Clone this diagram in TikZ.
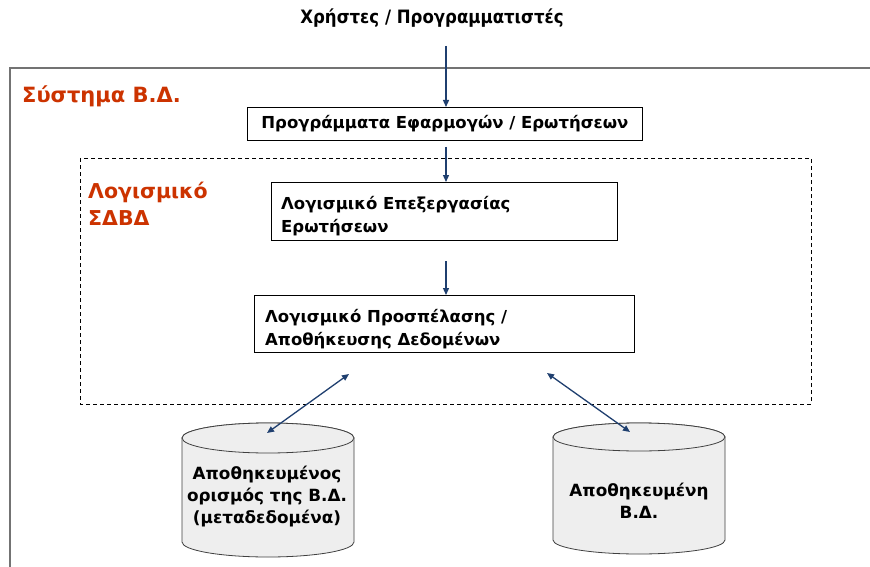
\documentclass[tikz,border=0pt]{standalone}
\usepackage{fontspec}
\setmainfont{DejaVu Sans}
\newfontfamily\condfont{DejaVu Sans Condensed}
\usetikzlibrary{arrows.meta}
\definecolor{navy}{HTML}{1F3F6F}
\definecolor{redtxt}{HTML}{CC3300}
\definecolor{cylfill}{HTML}{EEEEEE}
\tikzset{
  x=1pt, y=-1pt,
  boxtxt/.style={font=\bfseries\fontsize{16.5}{23}\selectfont},
  sbox/.style={draw=black, line width=0.8pt, anchor=north west},
  btxt/.style={boxtxt, align=left, anchor=base west, inner sep=0pt},
  redlbl/.style={text=redtxt, anchor=west, inner sep=0pt, align=left},
  flow/.style={draw=navy, line width=1.3pt, -{Triangle[length=7pt,width=6pt]}},
  dflow/.style={draw=navy, line width=1.3pt, {Triangle[length=7pt,width=6pt]}-{Triangle[length=7pt,width=6pt]}},
  cyl/.style={draw=black!75, line width=0.8pt, fill=cylfill},
  cyltxt/.style={font=\bfseries\fontsize{16.8}{22}\selectfont, align=center, inner sep=0pt}
}
\begin{document}
\begin{tikzpicture}
\useasboundingbox (0,0) rectangle (870,567);
\fill[white] (0,0) rectangle (870,567);

% outer system frame (open right and bottom)
\draw[gray!90!black, line width=1.4pt] (10,567) -- (10,68) -- (871,68);

% title
\node[font=\condfont\bfseries\fontsize{18.4}{20}\selectfont, inner sep=0pt] (users) at (432,18) {Χρήστες / Προγραμματιστές};
\coordinate (uarr) at (446,46);

\node[redlbl, font=\bfseries\fontsize{21}{24}\selectfont] (sys) at (22,96) {Σύστημα Β.Δ.};

% box 1
\node[sbox, minimum width=395pt, minimum height=33pt, inner sep=0pt, boxtxt] (apps) at (247,107) {Προγράμματα Εφαρμογών / Ερωτήσεων};

% dashed DBMS frame
\draw[black, line width=0.8pt, dash pattern=on 4pt off 3pt] (80,158) rectangle (811,404);
\node[redlbl, font=\bfseries\fontsize{20.5}{27}\selectfont] (dbms) at (88,204) {Λογισμικό\\ΣΔΒΔ};

% box 2
\node[sbox, minimum width=346pt, minimum height=58pt] (qp) at (271,182) {};
\node[btxt] (qpt) at (281,232) {Λογισμικό Επεξεργασίας\\Ερωτήσεων};

% box 3
\node[sbox, minimum width=380pt, minimum height=57pt] (sm) at (254,295) {};
\node[btxt] (smt) at (265,345) {Λογισμικό Προσπέλασης /\\Αποθήκευσης Δεδομένων};

% cylinder 1
\path[cyl] (182,438) -- (182,542) arc[start angle=180, end angle=360, x radius=86pt, y radius=15pt] -- (354,438) arc[start angle=0, end angle=180, x radius=86pt, y radius=15pt] -- cycle;
\draw[cyl] (268,438) ellipse[x radius=86pt, y radius=15pt];
\node[cyltxt] (meta) at (267,497) {Αποθηκευμένος\\ορισμός της Β.Δ.\\(μεταδεδομένα)};

% cylinder 2
\path[cyl] (553,437) -- (553,540) arc[start angle=180, end angle=360, x radius=86pt, y radius=14pt] -- (725,437) arc[start angle=0, end angle=180, x radius=86pt, y radius=14pt] -- cycle;
\draw[cyl] (639,437) ellipse[x radius=86pt, y radius=14pt];
\node[cyltxt] (db) at (639,501) {Αποθηκευμένη\\Β.Δ.};

% connector end points
\coordinate (a1) at (446,147);
\coordinate (a2) at (446,261);
\coordinate (d1s) at (349,374);
\coordinate (d1e) at (267,433);
\coordinate (d2s) at (547,373);
\coordinate (d2e) at (630,432);

\draw[flow] (uarr) -- (apps.north -| uarr);
\draw[flow] (a1) -- (qp.north -| a1);
\draw[flow] (a2) -- (sm.north -| a2);
\draw[dflow] (d1s) -- (d1e);
\draw[dflow] (d2s) -- (d2e);
\end{tikzpicture}
\end{document}
